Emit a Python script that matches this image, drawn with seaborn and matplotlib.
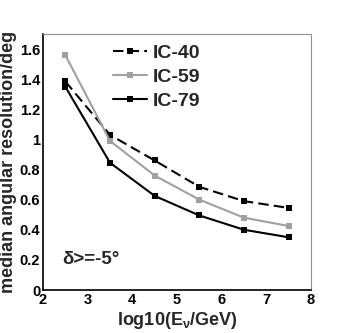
import numpy as np
import pandas as pd
import seaborn as sns
import matplotlib.pyplot as plt
from matplotlib.ticker import MultipleLocator, FuncFormatter

# data
energy = [2.5, 3.5, 4.5, 5.5, 6.5, 7.5]
ic40 = [1.385, 1.03, 0.86, 0.685, 0.59, 0.545]
ic59 = [1.56, 0.99, 0.76, 0.60, 0.48, 0.425]
ic79 = [1.35, 0.845, 0.625, 0.495, 0.40, 0.35]
detectors = ['IC-40', 'IC-59', 'IC-79']

df = pd.DataFrame({
    'energy': energy * 3,
    'resolution': ic40 + ic59 + ic79,
    'detector': np.repeat(detectors, len(energy)),
})

sns.set_style('white')
plt.rcParams['font.family'] = ['Liberation Sans', 'DejaVu Sans']
plt.rcParams['font.weight'] = 'bold'
plt.rcParams['mathtext.fontset'] = 'custom'
plt.rcParams['mathtext.rm'] = 'Liberation Sans:bold'
plt.rcParams['mathtext.it'] = 'Liberation Sans:bold'

fig = plt.figure(figsize=(3.46, 3.33), dpi=100)
ax = fig.add_axes([43 / 346, 43 / 333, 268 / 346, 256 / 333])

sns.lineplot(data=df, x='energy', y='resolution', hue='detector', style='detector',
             palette={'IC-40': 'black', 'IC-59': '#a0a0a0', 'IC-79': 'black'},
             dashes={'IC-40': (5, 2.5), 'IC-59': '', 'IC-79': ''},
             markers={'IC-40': 's', 'IC-59': 's', 'IC-79': 's'},
             markersize=4, markeredgewidth=0, linewidth=1.5, ax=ax)

ax.set_xlim(2, 8)
ax.set_ylim(0, 1.7)
ax.xaxis.set_major_locator(MultipleLocator(1))
ax.xaxis.set_minor_locator(MultipleLocator(0.2))
ax.yaxis.set_major_locator(MultipleLocator(0.2))
ax.yaxis.set_minor_locator(MultipleLocator(0.05))
ax.yaxis.set_major_formatter(FuncFormatter(lambda v, p: '%g' % round(v, 2)))
ax.tick_params(which='both', direction='in', width=1, labelsize=10.5, pad=2,
               top=False, right=False, colors='black')
ax.tick_params(which='major', length=8)
ax.tick_params(which='minor', length=4)

for s in ['left', 'bottom']:
    ax.spines[s].set_color('black')
    ax.spines[s].set_linewidth(1.2)
for s in ['top', 'right']:
    ax.spines[s].set_color('#909090')
    ax.spines[s].set_linewidth(0.8)

ax.set_xlabel(r'log10(E$_{\nu}$/GeV)', fontsize=13, fontweight='bold', labelpad=2)
ax.set_ylabel('median angular resolution/deg', fontsize=13, fontweight='bold', labelpad=2)

ax.text(2.42, 0.2, 'δ>=-5°', fontsize=13.5, fontweight='bold', va='center', ha='left')

ax.legend(frameon=False, loc='upper left', bbox_to_anchor=(0.26, 0.96),
          borderaxespad=0, borderpad=0, fontsize=14, handlelength=1.75,
          handletextpad=0.3, labelspacing=0.33, title=None)

fig.savefig('out.png', dpi=100, facecolor='white')
